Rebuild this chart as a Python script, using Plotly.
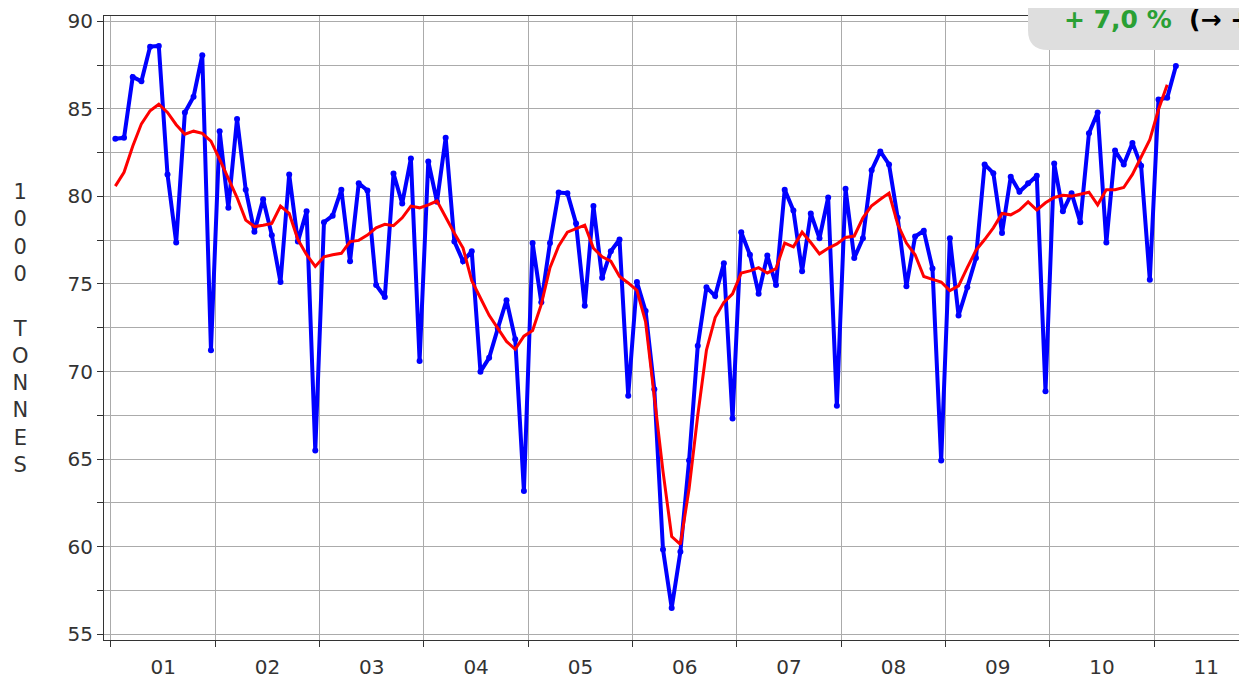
import plotly.graph_objects as go

# ---- data (monthly, starting Jan 2001) ----
start_year = 2001
production = [
    83.3, 83.35, 86.83, 86.58, 88.56, 88.6, 81.26, 77.37, 84.8, 85.7, 88.07, 71.22,
    83.73, 79.35, 84.43, 80.39, 77.99, 79.84, 77.79, 75.11, 81.26, 77.42, 79.15, 65.48,
    78.53, 78.9, 80.39, 76.3, 80.76, 80.34, 74.94, 74.25, 81.31, 79.6, 82.17, 70.6,
    82.0, 79.7, 83.36, 77.42, 76.3, 76.87, 69.99, 70.78, 72.46, 74.07, 71.84, 63.17,
    77.34, 73.95, 77.34, 80.22, 80.19, 78.46, 73.75, 79.45, 75.36, 76.87, 77.54, 68.62,
    75.11, 73.45, 68.99, 59.83, 56.49, 59.7, 64.91, 71.47, 74.81, 74.32, 76.18, 67.31,
    77.96, 76.67, 74.44, 76.62, 74.94, 80.39, 79.2, 75.73, 79.03, 77.61, 79.94, 68.05,
    80.44, 76.48, 77.61, 81.5, 82.57, 81.83, 78.78, 74.87, 77.71, 78.04, 75.88, 64.91,
    77.61, 73.2, 74.81, 76.48, 81.83, 81.33, 77.91, 81.13, 80.27, 80.76, 81.18, 68.87,
    81.88, 79.15, 80.19, 78.53, 83.61, 84.8, 77.37, 82.62, 81.83, 83.06, 81.75, 75.24,
    85.54, 85.64, 87.45,
]
trend = [
    80.59, 81.38, 82.87, 84.15, 84.9, 85.27, 84.8, 84.1, 83.56, 83.73, 83.61, 83.16,
    82.12, 81.0, 79.94, 78.65, 78.28, 78.36, 78.46, 79.45, 79.03, 77.54, 76.67, 76.0,
    76.55, 76.67, 76.75, 77.42, 77.49, 77.79, 78.21, 78.41, 78.33, 78.78, 79.45, 79.35,
    79.52, 79.74, 78.81, 77.9, 77.05, 75.19, 74.2, 73.21, 72.46, 71.72, 71.27, 72.02,
    72.34, 73.83, 75.93, 77.17, 77.96, 78.16, 78.36, 77.04, 76.55, 76.3, 75.43, 75.06,
    74.64, 72.83, 68.5, 64.29, 60.57, 60.13, 63.3, 67.5, 71.22, 73.08, 73.95, 74.44,
    75.63, 75.75, 75.93, 75.63, 75.88, 77.34, 77.12, 77.96, 77.37, 76.72, 77.04, 77.29,
    77.66, 77.74, 78.78, 79.47, 79.84, 80.19, 78.41, 77.34, 76.67, 75.43, 75.26, 75.11,
    74.62, 74.89, 75.93, 76.92, 77.54, 78.21, 79.03, 78.95, 79.22, 79.69, 79.22, 79.64,
    79.94, 80.07, 80.02, 80.14, 80.24, 79.52, 80.39, 80.39, 80.51, 81.26, 82.25, 83.24,
    84.97, 86.38,
]
year_labels = ["01", "02", "03", "04", "05", "06", "07", "08", "09", "10", "11"]
y_ticks = [55, 60, 65, 70, 75, 80, 85, 90]
y_title = "1000 TONNES"
badge_value = "+ 7,0 %"

# x positions: middle of each month, in decimal years
x_prod = [start_year + (i + 0.5) / 12 for i in range(len(production))]
x_trend = [start_year + (i + 0.5) / 12 for i in range(len(trend))]

# the page body has an 8px default margin; compensate so the plot lands
# where it sits in the 1247x679 window
OFF = 8
WIN_W, WIN_H = 1247, 679
W, H = WIN_W - OFF, WIN_H - OFF
# plot area in window pixels
PL, PR, PT, PB = 104, 1247, 16, 640
ML, MR, MT, MB = PL - OFF, WIN_W - PR, PT - OFF, WIN_H - PB
PW, PH = PR - PL, PB - PT


def px(xp):
    return (xp - PL) / PW


def py(yp):
    return (PB - yp) / PH


fig = go.Figure()
fig.add_trace(go.Scatter(
    x=x_prod, y=production, mode="lines+markers",
    line=dict(color="#0000ff", width=4),
    marker=dict(color="#0000ff", size=6),
    showlegend=False, hoverinfo="x+y",
))
fig.add_trace(go.Scatter(
    x=x_trend, y=trend, mode="lines",
    line=dict(color="#ff0000", width=3),
    showlegend=False, hoverinfo="x+y",
))

font_main = "DejaVu Sans"

fig.update_layout(
    width=W, height=H,
    margin=dict(l=ML, r=MR, t=MT, b=MB, pad=0),
    plot_bgcolor="white", paper_bgcolor="white",
    xaxis=dict(
        range=[2000.933, 2011.89],
        tickvals=[start_year + k + 0.5 for k in range(len(year_labels))],
        ticktext=year_labels,
        ticks="", showgrid=False, zeroline=False,
        showline=True, linecolor="#333333", linewidth=1, mirror=True,
        tickfont=dict(family=font_main, size=20, color="#333333"),
        ticklabelstandoff=9,
        minor=dict(tick0=start_year, dtick=1, ticks="outside", ticklen=6,
                   tickcolor="#333333", showgrid=True, gridcolor="#ababab",
                   gridwidth=1),
    ),
    yaxis=dict(
        range=[54.66, 90.31],
        tickvals=y_ticks,
        ticks="outside", ticklen=6, tickcolor="#333333",
        showgrid=True, gridcolor="#ababab", gridwidth=1, zeroline=False,
        showline=True, linecolor="#333333", linewidth=1,
        tickfont=dict(family=font_main, size=20, color="#333333"),
        minor=dict(tick0=55, dtick=2.5, ticks="outside", ticklen=6,
                   tickcolor="#333333", showgrid=True, gridcolor="#ababab",
                   gridwidth=1),
    ),
)

# vertical stacked axis title
stack = "<br>".join(ch if ch != " " else "\u00a0" for ch in y_title)
fig.add_annotation(
    xref="paper", yref="paper", x=px(20), y=py(328),
    xanchor="center", yanchor="middle", showarrow=False,
    text=stack, font=dict(family=font_main, size=21, color="#333333"),
)

# rounded grey badge at the top right
r = 20
bx0, by1, bx1, by0 = 1028, 50, 1270, -10
path = (f"M {px(bx0)},{py(by0)} L {px(bx0)},{py(by1 - r)} "
        f"Q {px(bx0)},{py(by1)} {px(bx0 + r)},{py(by1)} "
        f"L {px(bx1)},{py(by1)} L {px(bx1)},{py(by0)} Z")
fig.add_shape(type="path", xref="paper", yref="paper", path=path,
              fillcolor="#dedede", line=dict(width=0), layer="above")
fig.add_annotation(
    xref="paper", yref="paper", x=px(1062), y=py(20),
    xanchor="left", yanchor="middle", showarrow=False,
    text=(f"<b><span style='color:#2aa034'>{badge_value}</span>\u00a0\u00a0(\u2192 +</b>"),
    font=dict(family="DejaVu Sans", size=25, color="#000000"),
)

fig.write_html("out.html")
